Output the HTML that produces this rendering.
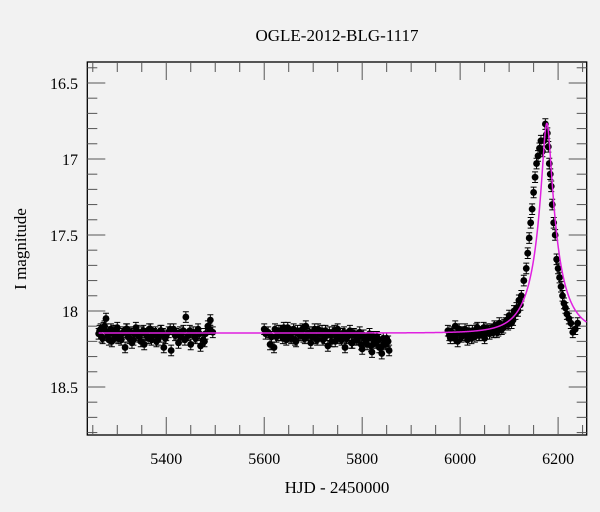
<!DOCTYPE html>
<html><head><meta charset="utf-8"><style>
html,body{margin:0;padding:0;background:#f2f2f2;}
svg{display:block;font-family:"Liberation Serif",serif;}
svg text{font-family:"Liberation Serif",serif;}
</style></head><body>
<svg id="chart" width="600" height="512" xmlns="http://www.w3.org/2000/svg">
<rect width="600" height="512" fill="#f2f2f2"/>
<text x="337" y="41" text-anchor="middle" font-size="17" fill="#000">OGLE-2012-BLG-1117</text>
<text x="337" y="493" text-anchor="middle" font-size="17" fill="#000">HJD - 2450000</text>
<text transform="translate(26,249) rotate(-90)" text-anchor="middle" font-size="17" fill="#000">I magnitude</text>
<g id="plot"></g>
</svg>
<script>
const times = [5262,5266,5270,5274,5277,5281,5285,5289,5292,5296,5300,5304,5308,5312,5316,5320,5325,5330,5335,5340,5345,5350,5355,5360,5365,5370,5375,5380,5385,5390,5395,5400,5405,5410,5415,5420,5425,5430,5435,5440,5445,5450,5455,5460,5465,5470,5475,5480,5485,5490,5495,
5600,5603,5612,5620,5625,5630,5635,5640,5645,5650,5655,5660,5665,5670,5675,5680,5685,5690,5695,5700,5705,5710,5715,5720,5725,5730,5735,5740,5745,5750,5755,5760,5765,5770,5775,5780,5785,5790,5795,5800,5805,5810,5815,5820,5825,5830,5835,5840,5845,5850,5855,
5975,5980,5985,5990,5995,6000,6005,6010,6015,6020,6025,6030,6035,6040,6045,6050,6055,6060,6065,6070,6075,6080,6085,6090,6095,6100,6105,6110,6115,6120,6125,6130,6135,6138,6141,6144,6147,6150,6153,6156,6159,6162,6165,6168,6171,6174,6176,6178,6180,6182,6184,6186,6188,6191,6194,6197,6200,6203,6206,6209,6212,6215,6218,6222,6226,6230,6235,6240];
const mags = [18.15,18.12,18.18,18.10,18.05,18.16,18.14,18.20,18.13,18.17,18.11,18.15,18.19,18.14,18.24,18.12,18.18,18.21,18.15,18.13,18.17,18.14,18.22,18.16,18.12,18.19,18.15,18.20,18.17,18.13,18.24,18.16,18.14,18.26,18.12,18.15,18.21,18.17,18.13,18.04,18.16,18.22,18.14,18.18,18.12,18.23,18.19,18.15,18.10,18.06,18.14,
18.12,18.15,18.22,18.24,18.17,18.13,18.16,18.11,18.19,18.14,18.18,18.12,18.20,18.15,18.13,18.17,18.10,18.16,18.21,18.14,18.18,18.12,18.15,18.19,18.13,18.23,18.16,18.14,18.20,18.12,18.18,18.15,18.24,18.17,18.13,18.21,18.16,18.19,18.14,18.25,18.18,18.22,18.15,18.27,18.20,18.17,18.24,18.28,18.21,18.18,18.26,
18.13,18.18,18.15,18.10,18.20,18.14,18.16,18.12,18.19,18.15,18.13,18.17,18.11,18.16,18.14,18.18,18.12,18.15,18.13,18.10,18.14,18.08,18.12,18.09,18.06,18.03,18.08,18.00,17.98,17.93,17.90,17.80,17.72,17.62,17.52,17.42,17.33,17.22,17.12,17.03,16.98,16.93,16.88,16.95,16.88,16.77,16.84,16.83,16.92,17.03,17.10,17.18,17.30,17.42,17.50,17.66,17.72,17.78,17.84,17.90,17.95,17.98,18.02,18.05,18.08,18.14,18.12,18.08];
const times2 = [5264,5268,5272,5279,5283,5287,5294,5298,5302,5310,5318,5322,5328,5333,5338,5343,5348,5353,5358,5363,5368,5373,5378,5383,5388,5393,5398,5408,5418,5428,5438,5448,5458,5468,5478,5488,
5608,5615,5622,5628,5633,5638,5643,5648,5653,5658,5663,5668,5673,5678,5683,5688,5693,5698,5703,5708,5713,5718,5723,5728,5733,5738,5743,5748,5753,5758,5763,5768,5773,5778,5783,5788,5793,5798,5803,5808,5813,5818,5823,5828,5833,5838,5843,5848,5853,
5978,5983,5988,5993,5998,6003,6008,6013,6018,6023,6028,6033,6038,6043,6048,6053,6058,6063,6068,6073,6078,6083,6088,6093,6098,6103,6108,6113,6118,6123];
const mags2 = [18.13,18.17,18.11,18.14,18.19,18.12,18.16,18.13,18.18,18.15,18.12,18.17,18.14,18.19,18.11,18.16,18.20,18.13,18.15,18.18,18.12,18.16,18.14,18.19,18.13,18.15,18.18,18.12,18.16,18.14,18.19,18.13,18.17,18.15,18.20,18.12,
18.14,18.17,18.12,18.16,18.13,18.18,18.15,18.11,18.17,18.14,18.19,18.13,18.16,18.12,18.18,18.15,18.14,18.17,18.12,18.19,18.15,18.13,18.18,18.16,18.14,18.20,18.13,18.17,18.15,18.19,18.14,18.18,18.16,18.21,18.15,18.19,18.17,18.22,18.16,18.20,18.18,18.23,18.17,18.21,18.19,18.24,18.18,18.22,18.20,
18.16,18.14,18.18,18.15,18.12,18.17,18.14,18.16,18.13,18.18,18.15,18.12,18.16,18.14,18.11,18.15,18.13,18.12,18.14,18.11,18.13,18.10,18.11,18.08,18.09,18.05,18.06,18.02,18.00,17.96];
const xTicks = [5400,5600,5800,6000,6200];
const yTicks = [16.5,17,17.5,18,18.5];
const model = {t0:6177, u0:0.165, tE:55, fs:0.5, base:18.145};

const L=87.3,R=586.7,T=62,B=435;
const X0=5238.8,X1=6258.4, Y0=16.362, Y1=18.816;
const sx=v=>L+(v-X0)/(X1-X0)*(R-L);
const sy=v=>T+(v-Y0)/(Y1-Y0)*(B-T);
const NS="http://www.w3.org/2000/svg";
const g=document.getElementById('plot');
function mk(tag,attrs){const e=document.createElementNS(NS,tag);for(const k in attrs)e.setAttribute(k,attrs[k]);g.appendChild(e);return e;}
const fr=mk('rect',{x:L,y:T,width:R-L,height:B-T,fill:'none',stroke:'#000','stroke-width':1.3});


for(let v=5250;v<=6250;v+=50){
  const major=v%200===0, len=major?18:10, x=sx(v);
  const t1=mk('line',{x1:x,y1:B,x2:x,y2:B-len,stroke:'#555','stroke-width':1});
  
  
  const t2=mk('line',{x1:x,y1:T,x2:x,y2:T+len,stroke:'#555','stroke-width':1});
  
  
}
xTicks.forEach(v=>{
  const t=mk('text',{x:sx(v),y:B+29,'text-anchor':'middle','font-size':16,'font-family':'Liberation Serif, serif'});
  t.textContent=v;
  
  
});
for(let i=0;i<=24;i++){
  const v=16.4+i*0.1; if(v>18.81)break;
  const major=Math.abs(v*2-Math.round(v*2))<1e-6, len=major?18:10, y=sy(v);
  const t1=mk('line',{x1:L,y1:y,x2:L+len,y2:y,stroke:'#555','stroke-width':1});
  
  
  const t2=mk('line',{x1:R,y1:y,x2:R-len,y2:y,stroke:'#555','stroke-width':1});
  
  
}
yTicks.forEach(v=>{
  const t=mk('text',{x:78,y:sy(v)+6,'text-anchor':'end','font-size':16,'font-family':'Liberation Serif, serif'});
  t.textContent=v;
  
  
});
function drawPts(ts,ms){
  ts.forEach((t,i)=>{
    const x=sx(t),y=sy(ms[i]),e=0.035*(B-T)/(Y1-Y0);
    const eb=mk('path',{d:`M${x},${y-e}V${y+e}M${x-3},${y-e}H${x+3}M${x-3},${y+e}H${x+3}`,stroke:'#000','stroke-width':1});
    
    
    const c=mk('circle',{cx:x,cy:y,r:3.4,fill:'#000'});
    
    
  });
}
drawPts(times2,mags2);
drawPts(times,mags);
let d='';
for(let t=5262;t<=6258;t+=0.5){
  const u=Math.sqrt(model.u0*model.u0+((t-model.t0)/model.tE)**2);
  const A=(u*u+2)/(u*Math.sqrt(u*u+4));
  const m=model.base-2.5*Math.log10(model.fs*A+1-model.fs);
  d+=(d?'L':'M')+sx(t).toFixed(2)+','+sy(m).toFixed(2);
}
const mc=mk('path',{d:d,fill:'none',stroke:'#e020e0','stroke-width':1.5});


</script>
</body></html>
